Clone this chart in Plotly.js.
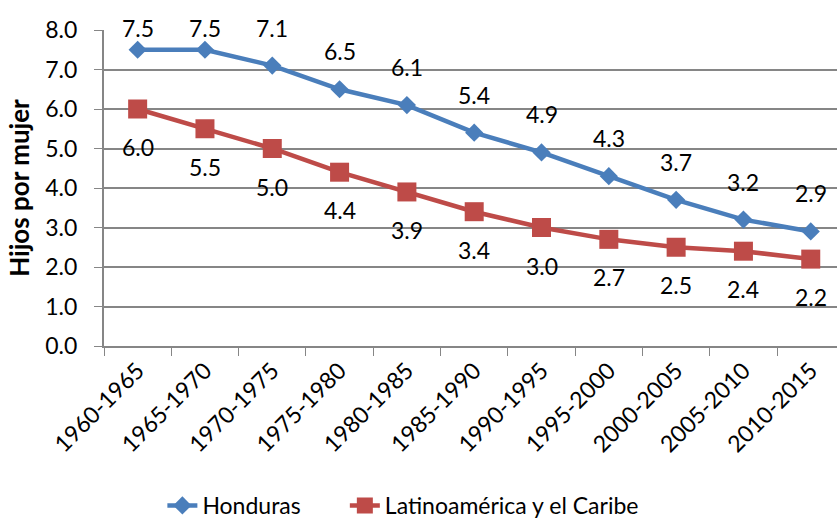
<!DOCTYPE html>
<html><head><meta charset="utf-8">
<script src="https://cdn.plot.ly/plotly-3.0.1.min.js"></script>
<style>body{margin:0;background:#fff}#chart{width:837px;height:527px}</style>
</head><body><div id="chart"></div>
<script>
const periods = ["1960-1965","1965-1970","1970-1975","1975-1980","1980-1985","1985-1990","1990-1995","1995-2000","2000-2005","2005-2010","2010-2015"];
const honduras = [7.5,7.5,7.1,6.5,6.1,5.4,4.9,4.3,3.7,3.2,2.9];
const latam = [6.0,5.5,5.0,4.4,3.9,3.4,3.0,2.7,2.5,2.4,2.2];
const seriesNames = ["Honduras","Latinoamérica y el Caribe"];
const yTitle = "Hijos por mujer";

const FONT = "Lato, 'Liberation Sans', sans-serif";
const blue = "#4A7EBB", red = "#BE4B48";

const annotations = [];
honduras.forEach((v,i)=>annotations.push({x:periods[i],y:v,text:v.toFixed(1),showarrow:false,
  yshift: v>=7.5 ? 22 : 38, font:{family:FONT,size:23,color:"#000"}}));
latam.forEach((v,i)=>annotations.push({x:periods[i],y:v,text:v.toFixed(1),showarrow:false,
  yshift:-38, font:{family:FONT,size:23,color:"#000"}}));

const data = [
 {x:periods,y:honduras,name:seriesNames[0],type:"scatter",mode:"lines+markers",legend:"legend",
  line:{color:blue,width:4.5},marker:{symbol:"diamond",size:14,color:blue}},
 {x:periods,y:latam,name:seriesNames[1],type:"scatter",mode:"lines+markers",legend:"legend2",
  line:{color:red,width:4.5},marker:{symbol:"square",size:19,color:red}}
];
const legendFont = {family:FONT,size:23,color:"#000"};
const layout = {
 width:837,height:527,margin:{l:104,r:0,t:30,b:181},
 paper_bgcolor:"#fff",plot_bgcolor:"#fff",
 font:{family:FONT,size:23,color:"#000"},
 xaxis:{type:"category",range:[-0.5,10.39],tickangle:-45,tickson:"boundaries",ticks:"outside",ticklen:8,
   tickcolor:"#868686",showline:true,linecolor:"#868686",linewidth:2,showgrid:false,
   tickfont:{family:FONT,size:23,color:"#000"},zeroline:false},
 yaxis:{range:[0,8],dtick:1,tickformat:".1f",ticks:"outside",ticklen:8,tickcolor:"#868686",
   showline:true,linecolor:"#868686",linewidth:2,gridcolor:"#868686",gridwidth:1.5,zeroline:false,
   ticklabelstandoff:12,
   tickfont:{family:FONT,size:23,color:"#000"},
   title:{text:yTitle,font:{family:FONT,size:26,color:"#000",weight:"bold"},standoff:8}},
 showlegend:true,
 legend:{orientation:"h",xref:"container",yref:"container",x:0.194,xanchor:"left",y:0,yanchor:"bottom",font:legendFont,
   tracegroupgap:0,borderwidth:0},
 legend2:{orientation:"h",xref:"container",yref:"container",x:0.412,xanchor:"left",y:0,yanchor:"bottom",font:legendFont,
   tracegroupgap:0,borderwidth:0},
 annotations:annotations
};
Plotly.newPlot("chart",data,layout,{displayModeBar:false});
</script></body></html>
